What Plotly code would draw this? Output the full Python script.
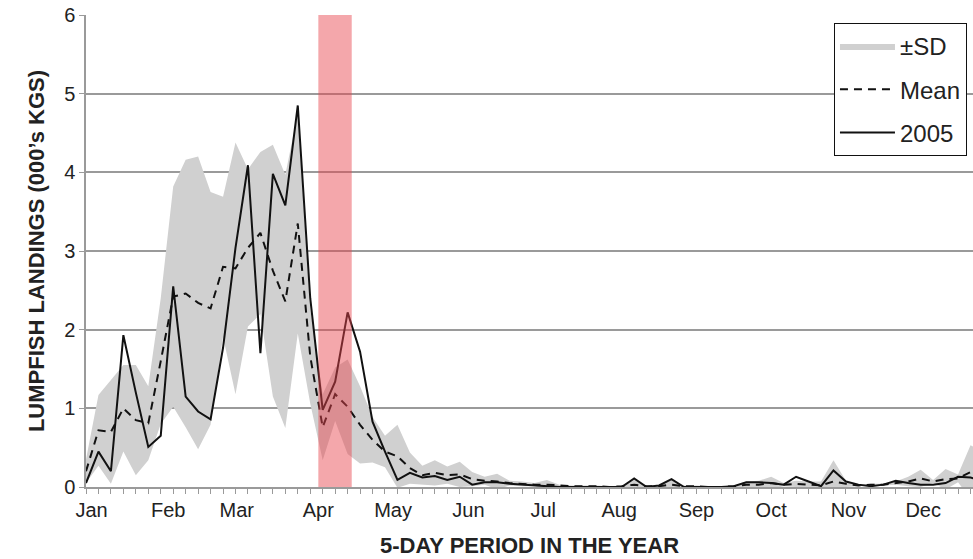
import plotly.graph_objects as go

# 5-day periods (index 0..72)
periods = list(range(73))

landings_2005 = [0.05, 0.45, 0.20, 1.93, 1.20, 0.51, 0.65, 2.55, 1.15, 0.96,
                 0.86, 1.77, 3.04, 4.09, 1.70, 3.98, 3.58, 4.85, 2.40, 0.98,
                 1.34, 2.22, 1.72, 0.83, 0.45, 0.09, 0.18, 0.12, 0.14, 0.09,
                 0.13, 0.03, 0.06, 0.06, 0.04, 0.03, 0.02, 0.01, 0.00, 0.00,
                 0.00, 0.00, 0.00, 0.00, 0.11, 0.00, 0.02, 0.10, 0.00, 0.00,
                 0.00, 0.00, 0.01, 0.06, 0.06, 0.05, 0.03, 0.13, 0.07, 0.01,
                 0.21, 0.07, 0.03, 0.01, 0.03, 0.08, 0.05, 0.03, 0.03, 0.05,
                 0.13, 0.12, 0.08]

mean_landings = [0.20, 0.72, 0.70, 1.00, 0.85, 0.81, 1.60, 2.42, 2.46, 2.34,
                 2.27, 2.80, 2.78, 3.04, 3.23, 2.75, 2.36, 3.35, 1.66, 0.76,
                 1.18, 1.02, 0.79, 0.60, 0.45, 0.39, 0.24, 0.15, 0.18, 0.15,
                 0.16, 0.10, 0.08, 0.07, 0.05, 0.04, 0.03, 0.03, 0.02, 0.01,
                 0.01, 0.01, 0.00, 0.01, 0.03, 0.01, 0.01, 0.03, 0.01, 0.01,
                 0.00, 0.00, 0.01, 0.03, 0.03, 0.05, 0.03, 0.04, 0.03, 0.02,
                 0.07, 0.04, 0.02, 0.03, 0.03, 0.05, 0.07, 0.11, 0.07, 0.10,
                 0.11, 0.19, 0.16]

sd_landings = [0.15, 0.45, 0.66, 0.55, 0.70, 0.47, 0.80, 1.40, 1.70, 1.86,
               1.48, 0.89, 1.60, 1.00, 1.03, 1.60, 1.61, 1.40, 0.60, 0.42,
               0.34, 0.60, 0.49, 0.29, 0.20, 0.40, 0.20, 0.12, 0.16, 0.11,
               0.16, 0.09, 0.05, 0.10, 0.03, 0.03, 0.02, 0.06, 0.01, 0.01,
               0.01, 0.01, 0.01, 0.01, 0.07, 0.01, 0.01, 0.06, 0.01, 0.01,
               0.01, 0.01, 0.01, 0.04, 0.05, 0.08, 0.02, 0.04, 0.04, 0.05,
               0.27, 0.04, 0.01, 0.01, 0.01, 0.02, 0.06, 0.11, 0.02, 0.13,
               0.05, 0.34, 0.30]

month_labels = ["Jan", "Feb", "Mar", "Apr", "May", "Jun",
                "Jul", "Aug", "Sep", "Oct", "Nov", "Dec"]
month_pos = [0.45, 6.6, 12.1, 18.65, 24.65, 30.7, 36.7, 42.8, 49.0, 55.0, 61.2, 67.2]

y_ticks = [0, 1, 2, 3, 4, 5, 6]

closure_start, closure_end = 18.65, 21.33

upper = [m + s for m, s in zip(mean_landings, sd_landings)]
lower = [m - s for m, s in zip(mean_landings, sd_landings)]

FONT = "Liberation Sans, Arial, sans-serif"
GRID = "#9a9a9a"

fig = go.Figure()

fig.add_trace(go.Scatter(
    x=periods + periods[::-1], y=upper + lower[::-1],
    fill="toself", fillcolor="rgb(208,208,208)", mode="lines",
    line=dict(width=0, color="rgb(208,208,208)"),
    name="±SD", legendgroup="a", hoverinfo="skip"))

fig.add_trace(go.Scatter(
    x=periods, y=mean_landings, mode="lines", name="Mean", legendgroup="b",
    line=dict(color="#111111", width=2, dash="8px,6px")))

fig.add_trace(go.Scatter(
    x=periods, y=landings_2005, mode="lines", name="2005", legendgroup="c",
    line=dict(color="#111111", width=2)))

fig.add_shape(type="rect", xref="x", yref="paper",
              x0=closure_start, x1=closure_end, y0=0, y1=1,
              fillcolor="rgba(232,67,76,0.47)", line=dict(width=0),
              layer="above")

fig.update_layout(
    width=973, height=559,
    margin=dict(l=86, r=0, t=15, b=72, autoexpand=False),
    paper_bgcolor="white", plot_bgcolor="white",
    font=dict(family=FONT, color="#222222", size=20),
    showlegend=True,
    legend=dict(x=0.9932, xanchor="right", y=0.983, yanchor="top",
                bgcolor="white", bordercolor="#111111", borderwidth=1,
                font=dict(size=24, family=FONT, color="#222222"),
                tracegroupgap=9, itemwidth=55),
)

fig.update_xaxes(
    range=[0, 71.2], tickmode="array", tickvals=month_pos, ticktext=month_labels,
    ticks="", showgrid=False, zeroline=False, automargin=False,
    showline=True, linecolor=GRID, linewidth=1.5, ticklabelstandoff=4,
    tickfont=dict(size=20, family=FONT, color="#222222"),
    minor=dict(tickmode="linear", tick0=0, dtick=1, ticks="outside",
               ticklen=5, tickcolor=GRID, tickwidth=1, showgrid=False),
    title=dict(text="<b>5-DAY PERIOD IN THE YEAR</b>",
               font=dict(size=22, family=FONT, color="#222222"), standoff=18),
)

fig.update_yaxes(
    range=[0, 6], tickvals=y_ticks, ticks="outside", ticklen=5,
    tickcolor=GRID, tickwidth=1, automargin=False,
    showgrid=True, gridcolor=GRID, gridwidth=1.5, zeroline=False,
    showline=True, linecolor=GRID, linewidth=1.5,
    tickfont=dict(size=20, family=FONT, color="#222222"),
    title=dict(text="<b>LUMPFISH LANDINGS (000’s KGS)</b>",
               font=dict(size=22, family=FONT, color="#222222"), standoff=13),
)

fig.write_html("out.html", config={"displayModeBar": False},
               post_script="document.body.style.margin='0';document.body.style.overflow='hidden';")
